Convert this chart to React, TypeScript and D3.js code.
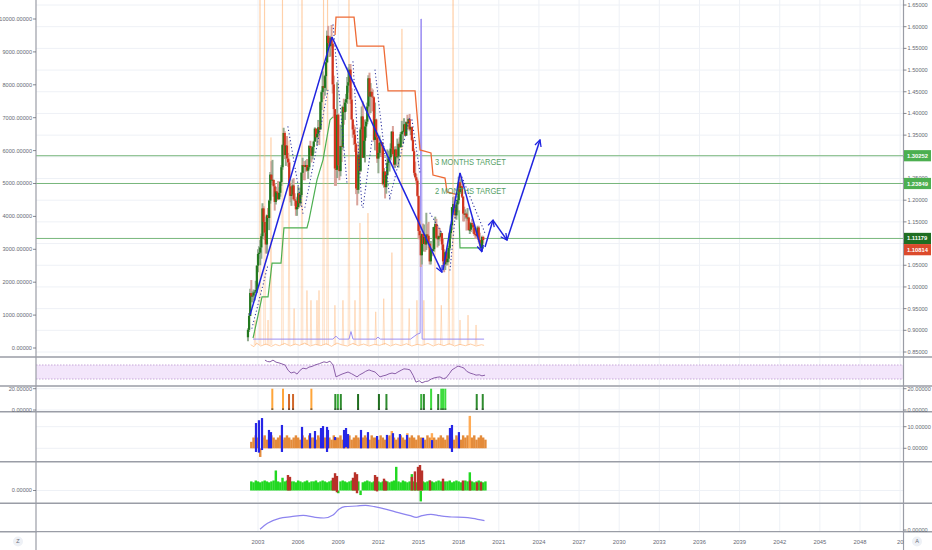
import React, { useEffect, useRef } from "react";
import * as d3 from "d3";

// monthly EUR/USD style candles, Apr 2002 .. Nov 2019
const firstMonth = 2002.25;
const firstOpen = 0.884;
const closes = [
  0.901, 0.933, 0.986, 0.978, 0.98, 0.987, 0.989, 0.993, 1.049,
  1.076, 1.079, 1.091, 1.117, 1.181, 1.15, 1.125, 1.098, 1.165, 1.159, 1.199, 1.259,
  1.247, 1.247, 1.232, 1.196, 1.22, 1.217, 1.202, 1.217, 1.242, 1.276, 1.327, 1.355,
  1.304, 1.326, 1.296, 1.287, 1.232, 1.21, 1.213, 1.234, 1.202, 1.199, 1.179, 1.184,
  1.216, 1.193, 1.212, 1.263, 1.281, 1.279, 1.277, 1.281, 1.268, 1.276, 1.325, 1.32,
  1.302, 1.323, 1.335, 1.365, 1.345, 1.353, 1.368, 1.363, 1.426, 1.449, 1.463, 1.459,
  1.486, 1.518, 1.579, 1.562, 1.555, 1.575, 1.561, 1.467, 1.41, 1.273, 1.27, 1.397,
  1.28, 1.267, 1.325, 1.323, 1.415, 1.403, 1.425, 1.433, 1.464, 1.472, 1.501, 1.432,
  1.386, 1.363, 1.351, 1.329, 1.227, 1.224, 1.305, 1.268, 1.363, 1.393, 1.298, 1.337,
  1.37, 1.381, 1.416, 1.481, 1.439, 1.45, 1.439, 1.437, 1.339, 1.386, 1.345, 1.296,
  1.309, 1.332, 1.334, 1.324, 1.237, 1.266, 1.23, 1.258, 1.286, 1.296, 1.299, 1.319,
  1.358, 1.306, 1.282, 1.317, 1.3, 1.301, 1.33, 1.322, 1.352, 1.358, 1.359, 1.375,
  1.349, 1.38, 1.377, 1.387, 1.363, 1.369, 1.339, 1.313, 1.263, 1.253, 1.245, 1.21,
  1.129, 1.119, 1.073, 1.122, 1.099, 1.115, 1.098, 1.121, 1.118, 1.1, 1.059, 1.086,
  1.083, 1.087, 1.138, 1.145, 1.113, 1.11, 1.117, 1.116, 1.124, 1.098, 1.059, 1.052,
  1.08, 1.057, 1.065, 1.09, 1.124, 1.142, 1.184, 1.191, 1.181, 1.165, 1.19, 1.2,
  1.241, 1.219, 1.232, 1.208, 1.169, 1.168, 1.169, 1.16, 1.16, 1.131, 1.132, 1.147,
  1.144, 1.137, 1.122, 1.121, 1.117, 1.137, 1.108, 1.099, 1.09, 1.115, 1.1081,
];
const highs = [
  0.905, 0.94, 0.996, 1.016, 0.99, 0.994, 0.993, 1.014, 1.05,
  1.087, 1.094, 1.108, 1.123, 1.193, 1.186, 1.162, 1.13, 1.167, 1.182, 1.201, 1.265,
  1.29, 1.293, 1.242, 1.239, 1.231, 1.226, 1.244, 1.23, 1.244, 1.281, 1.329, 1.367,
  1.359, 1.327, 1.348, 1.309, 1.294, 1.239, 1.23, 1.248, 1.251, 1.216, 1.208, 1.204,
  1.232, 1.216, 1.229, 1.265, 1.298, 1.29, 1.29, 1.292, 1.295, 1.28, 1.327, 1.337,
  1.325, 1.324, 1.337, 1.368, 1.357, 1.354, 1.385, 1.381, 1.428, 1.453, 1.497, 1.476,
  1.489, 1.519, 1.591, 1.602, 1.578, 1.579, 1.604, 1.563, 1.487, 1.41, 1.33, 1.472,
  1.4, 1.303, 1.374, 1.34, 1.418, 1.434, 1.431, 1.445, 1.484, 1.506, 1.514, 1.514,
  1.458, 1.387, 1.374, 1.369, 1.332, 1.248, 1.313, 1.333, 1.368, 1.416, 1.428, 1.35,
  1.386, 1.386, 1.425, 1.488, 1.494, 1.47, 1.458, 1.455, 1.439, 1.425, 1.388, 1.355,
  1.323, 1.349, 1.338, 1.333, 1.33, 1.274, 1.267, 1.263, 1.317, 1.314, 1.302, 1.331,
  1.359, 1.371, 1.309, 1.324, 1.324, 1.342, 1.335, 1.345, 1.357, 1.383, 1.362, 1.389,
  1.374, 1.382, 1.397, 1.39, 1.399, 1.369, 1.369, 1.345, 1.319, 1.289, 1.26, 1.25,
  1.21, 1.153, 1.124, 1.123, 1.146, 1.144, 1.113, 1.171, 1.146, 1.15, 1.101, 1.106,
  1.099, 1.138, 1.139, 1.162, 1.157, 1.142, 1.119, 1.136, 1.128, 1.121, 1.112, 1.087,
  1.082, 1.083, 1.09, 1.095, 1.127, 1.145, 1.184, 1.207, 1.209, 1.188, 1.196, 1.204,
  1.254, 1.256, 1.248, 1.241, 1.21, 1.185, 1.179, 1.173, 1.182, 1.162, 1.15, 1.149,
  1.157, 1.149, 1.145, 1.133, 1.127, 1.141, 1.141, 1.125, 1.111, 1.118, 1.118,
];
const lows = [
  0.875, 0.896, 0.933, 0.965, 0.964, 0.97, 0.969, 0.986, 0.986,
  1.034, 1.065, 1.05, 1.065, 1.112, 1.139, 1.108, 1.077, 1.077, 1.15, 1.131, 1.192,
  1.235, 1.236, 1.208, 1.176, 1.19, 1.199, 1.202, 1.205, 1.208, 1.233, 1.27, 1.324,
  1.295, 1.279, 1.288, 1.277, 1.23, 1.195, 1.187, 1.211, 1.199, 1.187, 1.164, 1.164,
  1.18, 1.183, 1.187, 1.207, 1.262, 1.246, 1.246, 1.266, 1.266, 1.249, 1.271, 1.309,
  1.287, 1.294, 1.308, 1.336, 1.341, 1.327, 1.342, 1.327, 1.364, 1.408, 1.444, 1.433,
  1.441, 1.452, 1.516, 1.552, 1.53, 1.531, 1.55, 1.446, 1.389, 1.233, 1.233, 1.251,
  1.277, 1.246, 1.255, 1.288, 1.316, 1.374, 1.385, 1.404, 1.422, 1.448, 1.47, 1.422,
  1.386, 1.344, 1.327, 1.311, 1.214, 1.188, 1.215, 1.259, 1.265, 1.368, 1.297, 1.307,
  1.287, 1.344, 1.375, 1.412, 1.397, 1.401, 1.405, 1.405, 1.335, 1.315, 1.315, 1.286,
  1.262, 1.3, 1.3, 1.3, 1.234, 1.229, 1.204, 1.215, 1.256, 1.28, 1.266, 1.292,
  1.312, 1.303, 1.275, 1.274, 1.279, 1.296, 1.275, 1.323, 1.324, 1.35, 1.33, 1.352,
  1.348, 1.348, 1.364, 1.368, 1.359, 1.35, 1.336, 1.313, 1.257, 1.25, 1.236, 1.208,
  1.11, 1.11, 1.046, 1.052, 1.082, 1.082, 1.081, 1.085, 1.108, 1.089, 1.052, 1.052,
  1.071, 1.083, 1.081, 1.121, 1.11, 1.091, 1.095, 1.105, 1.112, 1.085, 1.05, 1.034,
  1.039, 1.049, 1.05, 1.057, 1.084, 1.112, 1.131, 1.166, 1.172, 1.157, 1.155, 1.172,
  1.192, 1.221, 1.215, 1.205, 1.151, 1.151, 1.157, 1.13, 1.153, 1.13, 1.122, 1.127,
  1.129, 1.123, 1.118, 1.111, 1.111, 1.118, 1.103, 1.093, 1.088, 1.088, 1.1,
];

// axes
const xTicks = d3.range(2003, 2052, 3);
const priceTicks = d3.range(0.85, 1.6501, 0.05);
const leftTicks = d3.range(0, 10001, 1000);

// horizontal target levels and price labels
const levels = [1.30252, 1.23849, 1.11179];
const priceTags = [
  { label: "1.30252", value: 1.30252, color: "#4caf50" },
  { label: "1.23849", value: 1.23849, color: "#4caf50" },
  { label: "1.11179", value: 1.11179, color: "#1f6e22" },
  { label: "1.10814", value: 1.0859, color: "#dc4a2c" },
];
const targetTexts = [
  { text: "3 MONTHS TARGET", year: 2016.23, price: 1.281 },
  { text: "2 MONTHS TARGET", year: 2016.23, price: 1.214 },
];

// trailing stops
const upperStop: [number, number][] = [
  [2008.76, 1.581], [2008.83, 1.622], [2010.18, 1.622], [2010.4, 1.555], [2012.4, 1.555],
  [2012.72, 1.452], [2014.74, 1.452], [2015.11, 1.316], [2015.93, 1.309], [2016.08, 1.258],
  [2016.98, 1.251], [2017.13, 1.219], [2017.95, 1.212],
];
const lowerStop: [number, number][] = [
  [2002.63, 0.882], [2002.93, 0.924], [2003.3, 0.977], [2003.75, 0.977], [2004.05, 1.055],
  [2004.72, 1.055], [2004.94, 1.136], [2006.66, 1.136], [2006.81, 1.154], [2007.41, 1.247],
  [2007.86, 1.293], [2008.38, 1.385], [2008.61, 1.392],
];
const lowerStop2: [number, number][] = [[2018.02, 1.177], [2018.1, 1.09], [2019.89, 1.09]];

// parabolic dots
const sarRuns: [number, number, number, number][] = [
  [2002.55, 0.905, 2003.75, 1.051], [2005.24, 1.369, 2006.36, 1.17],
  [2006.51, 1.184, 2008.23, 1.454], [2008.61, 1.604, 2009.65, 1.24],
  [2010.1, 1.519, 2010.77, 1.184], [2010.85, 1.184, 2011.52, 1.339],
  [2011.75, 1.5, 2012.87, 1.2], [2012.87, 1.207, 2014.36, 1.392],
  [2014.51, 1.385, 2015.11, 1.263], [2015.86, 1.17, 2016.75, 1.124],
  [2017.35, 1.039, 2017.95, 1.23], [2018.25, 1.253, 2019.97, 1.124],
];

// hand drawn projection
const drawLegs: { from: [number, number]; to: [number, number]; arrow: boolean }[] = [
  { from: [2002.4, 0.935], to: [2008.53, 1.576], arrow: false },
  { from: [2008.53, 1.576], to: [2016.75, 1.034], arrow: true },
  { from: [2016.83, 1.039], to: [2018.1, 1.263], arrow: false },
  { from: [2018.1, 1.263], to: [2019.74, 1.081], arrow: true },
  { from: [2019.97, 1.092], to: [2020.56, 1.154], arrow: true },
  { from: [2020.56, 1.154], to: [2021.61, 1.108], arrow: true },
  { from: [2021.61, 1.108], to: [2024.08, 1.339], arrow: true },
];

// left-scale overlays on the price pane
const orangeBase: [number, number][] = [
  [2002.45, 100], [2002.7, 40], [2002.9, 150], [2003.2, 60], [2003.6, 120], [2004.0, 50],
  [2004.3, 110], [2004.6, 70], [2005.0, 140], [2005.4, 60], [2005.8, 120], [2006.1, 80],
  [2006.5, 150], [2006.9, 60], [2007.3, 110], [2007.7, 70], [2008.1, 130], [2008.5, 50],
  [2008.9, 150], [2009.3, 90], [2009.7, 60], [2010.1, 140], [2010.5, 70], [2010.9, 120],
  [2011.3, 60], [2011.7, 110], [2012.1, 80], [2012.5, 140], [2012.9, 60], [2013.3, 120],
  [2013.7, 70], [2014.1, 130], [2014.5, 60], [2014.9, 110], [2015.3, 80], [2015.7, 140],
  [2016.1, 60], [2016.5, 120], [2016.9, 70], [2017.3, 130], [2017.7, 60], [2018.1, 110],
  [2018.5, 70], [2018.9, 120], [2019.3, 60], [2019.7, 100], [2019.9, 80],
];
const orangeSpikes: [number, number][] = [
  [2002.78, 850], [2003.15, 12000], [2003.49, 12000], [2003.75, 850], [2003.97, 6400],
  [2004.83, 12000], [2005.32, 6300], [2005.7, 1200], [2006.29, 12000], [2006.66, 1750],
  [2006.96, 1450], [2007.41, 1450], [2007.56, 1750], [2007.9, 12000], [2008.2, 12000],
  [2008.75, 1300], [2009.35, 1450], [2009.8, 12000], [2010.25, 1450], [2010.62, 3800],
  [2011.22, 4100], [2011.8, 1100], [2012.4, 1500], [2013.01, 2900], [2013.76, 9700],
  [2014.3, 1200], [2014.88, 1450], [2015.4, 1450], [2016.23, 3500], [2016.7, 1300],
  [2017.27, 2900], [2017.58, 12000], [2018.1, 850], [2018.7, 1000], [2019.3, 700],
];
const purpleLine: [number, number][] = [
  [2002.63, 270], [2008.6, 270], [2008.83, 360], [2009.05, 270], [2009.8, 270],
  [2009.95, 500], [2010.1, 270], [2011.8, 270], [2011.97, 330], [2012.15, 270],
  [2014.4, 270], [2014.9, 420], [2015.12, 450], [2015.18, 10000], [2015.21, 10000],
  [2015.27, 270], [2019.9, 270],
];

// RSI pane
const rsi: [number, number][] = [
  [2003.52, 84], [2003.7, 80], [2003.9, 79], [2004.12, 84], [2004.35, 78], [2004.57, 76],
  [2005.02, 70], [2005.25, 55], [2005.47, 47], [2005.7, 50], [2005.92, 44], [2006.15, 55],
  [2006.36, 61], [2006.6, 59], [2006.81, 64], [2007.05, 66], [2007.26, 70], [2007.6, 74],
  [2007.93, 79], [2008.15, 77], [2008.38, 81], [2008.61, 70], [2008.83, 36], [2009.05, 40],
  [2009.28, 44], [2009.5, 47], [2009.73, 50], [2010.0, 45], [2010.18, 41], [2010.4, 36],
  [2010.6, 42], [2010.85, 47], [2011.05, 52], [2011.3, 56], [2011.5, 53], [2011.75, 50],
  [2012.12, 36], [2012.35, 39], [2012.57, 41], [2012.8, 45], [2013.02, 47], [2013.25, 45],
  [2013.46, 50], [2013.7, 55], [2013.91, 59], [2014.15, 58], [2014.36, 56], [2014.6, 40],
  [2014.81, 21], [2015.05, 25], [2015.26, 19], [2015.5, 23], [2015.71, 24], [2015.95, 30],
  [2016.16, 33], [2016.4, 35], [2016.6, 36], [2016.85, 31], [2017.05, 33], [2017.3, 45],
  [2017.5, 56], [2017.75, 62], [2017.95, 67], [2018.2, 64], [2018.4, 61], [2018.6, 52],
  [2018.85, 47], [2019.1, 44], [2019.3, 41], [2019.55, 42], [2019.74, 39], [2019.97, 41],
];

// signal bars pane
const signalBars: { year: number; value: number; color: string }[] = [
  { year: 2004.07, value: 20, color: "#ffa53a" },
  { year: 2004.87, value: 20, color: "#ffa53a" },
  { year: 2005.32, value: 15, color: "#d0672a" },
  { year: 2005.62, value: 15, color: "#d0672a" },
  { year: 2006.99, value: 20, color: "#ffa53a" },
  { year: 2008.78, value: 15, color: "#2e8b2e" },
  { year: 2008.97, value: 15, color: "#3cb43c" },
  { year: 2009.19, value: 15, color: "#2e8b2e" },
  { year: 2010.48, value: 15, color: "#1f6e1f" },
  { year: 2012.04, value: 15, color: "#1f6e1f" },
  { year: 2012.6, value: 15, color: "#2e8b2e" },
  { year: 2015.2, value: 15, color: "#3cb43c" },
  { year: 2015.4, value: 15, color: "#2e8b2e" },
  { year: 2015.94, value: 20, color: "#3ddc3d" },
  { year: 2016.47, value: 15, color: "#2e8b2e" },
  { year: 2016.7, value: 20, color: "#3ddc3d" },
  { year: 2016.83, value: 20, color: "#3ddc3d" },
  { year: 2017.0, value: 20, color: "#3ddc3d" },
  { year: 2019.35, value: 15, color: "#2e8b2e" },
  { year: 2019.8, value: 15, color: "#2e8b2e" },
];

// oscillator pane (two-month bars)
const barStart = 2002.5;
const oscOrange = [
  3, 5, 6, 5, -4, 5, 6, 4, 5, 6, 5, 4,
  5, 6, 4, 5, 6, 5, 4, 5, 6, 5, 4, 6,
  5, 4, 6, 5, 5, 4, 6, 5, 4, 5, 6, 5,
  4, 6, 5, 5, 6, 4, 5, 5, 6, 4, 5, 6,
  5, 4, 5, 6, 5, 4, 6, 5, 5, 4, 6, 5,
  4, 5, 6, 8, 5, 4, 5, 6, 5, 4, 7, 5,
  6, 5, 4, 6, 5, 5, 4, 6, 5, 7, 5, 4,
  5, 6, 5, 4, 6, 5, 5, 4, 6, 5, 4, 6,
  5, 6, 15, 5, 6, 4, 5, 6, 5, 4,
];
const oscBlue: [number, number, number][] = [
  [2002.85, 11.7, -1.7], [2003.07, 13, -2], [2003.3, 14, -0.8], [2003.82, 8.5, 0],
  [2003.97, 7.5, 0], [2004.79, 10.8, -1.7], [2006.29, 9.9, 0], [2006.89, 7, 0],
  [2007.26, 8, 0], [2007.71, 9.4, 0], [2007.86, 10.3, 0], [2008.16, 9.9, -1.7],
  [2008.23, 8.5, 0], [2008.76, 5.2, 3.8], [2009.43, 8.5, 0], [2009.58, 9.4, 0.6],
  [2009.73, 6.6, 0], [2010.7, 8.5, 0], [2011.22, 7.5, 0], [2011.9, 5.7, 0],
  [2012.64, 6.2, 0], [2013.09, 7, 0], [2013.61, 6.6, 0], [2014.14, 6.2, 0],
  [2015.33, 4.8, 0], [2016.01, 3.8, 0], [2017.35, 9.4, 0], [2017.5, 10.8, -1.7],
  [2018.02, 7.5, 0],
];

// momentum pane (two-month bars)
const momGreen = [
  10, 9, 11, 10, 9, 10, 11, 10, 9, 10, 11, 22,
  10, 9, 14, 10, 11, 9, 10, 10, 9, 11, 10, 9,
  10, 11, 9, 10, 10, 11, 9, 10, 11, 10, 9, 10,
  11, 10, 9, -3, 10, 11, 10, 9, 10, 11, 9, 10,
  10, -5, 9, 10, 11, 10, 9, 10, 11, 10, 9, 10,
  11, 10, 9, 10, 11, 26, 10, 9, 11, 10, 9, 10,
  18, 10, 9, 11, -12, 10, 9, 10, 11, 10, 9, 10,
  11, 10, 9, 10, 10, 11, 9, 10, 11, 10, 9, 10,
  11, 10, 20, 10, 9, 10, 11, 10, 9, 10,
];
const momRed: [number, number, number][] = [
  [2005.24, 17, 0], [2005.39, 15, 0], [2008.6, 14, 0], [2008.76, 19, 0], [2008.9, 16, -2],
  [2010.1, 14, 0], [2010.25, 20, 0], [2010.4, 18, -3], [2011.75, 17, 0], [2011.9, 15, -1],
  [2012.42, 13, 0], [2012.57, 10, 0], [2014.5, 15, 0], [2014.73, 21, 0], [2014.96, 26, 0],
  [2015.11, 28, 0], [2015.26, 22, 0], [2015.86, 11, 0], [2016.83, 13, 0], [2018.32, 11, 0],
  [2018.85, 11, 0], [2019.37, 9, 0], [2019.67, 9, 0],
];

// bottom pane line
const slowLine: [number, number][] = [
  [2003.15, 0.7], [2003.71, 6.7], [2004.6, 11.7], [2005.49, 13.3], [2006.38, 14.7],
  [2007.27, 12.7], [2007.93, 12], [2008.61, 15], [2009.05, 20.7], [2009.49, 23.3],
  [2010.38, 24], [2011.04, 24.7], [2011.71, 23.3], [2012.6, 20.7], [2013.49, 17.3],
  [2014.38, 14.3], [2014.83, 12.7], [2015.26, 14.3], [2015.93, 15.7], [2016.6, 14.3],
  [2017.49, 13], [2018.38, 12.7], [2019.05, 11.7], [2019.93, 9.3],
];

const axisFont = "'Liberation Sans', Arial, sans-serif";
const gridColor = "#eef1f6";
const lineColor = "#9a9da6";
const textColor = "#676a75";

const App: React.FC = () => {
  const ref = useRef<SVGSVGElement>(null);

  useEffect(() => {
    document.body.style.margin = "0";
    const svg = d3.select(ref.current);
    svg.selectAll("*").remove();

    const W = 932;
    const H = 550;
    const L = 36;
    const R = 903.5;

    const x = d3.scaleLinear().domain([2003, 2048]).range([258, 860]);
    const yP = d3.scaleLinear().domain([0.85, 1.65]).range([352, 5]);
    const yL = d3.scaleLinear().domain([0, 10000]).range([348, 19]);
    const yRsi = d3.scaleLinear().domain([30, 70]).range([379, 365]);
    const ySig = d3.scaleLinear().domain([0, 20]).range([410, 388.7]);
    const yOsc = d3.scaleLinear().domain([0, 10]).range([448.3, 426.7]);
    const yMom = d3.scaleLinear().domain([0, 10]).range([490.5, 481.4]);
    const ySlow = d3.scaleLinear().domain([0, 10]).range([530, 520]);

    const panes = [
      { id: "main", top: 0, bottom: 356.2 },
      { id: "rsi", top: 357.8, bottom: 385.2 },
      { id: "sig", top: 386.8, bottom: 410.9 },
      { id: "osc", top: 412.5, bottom: 460.9 },
      { id: "mom", top: 462.5, bottom: 502.5 },
      { id: "slow", top: 504.1, bottom: 530.9 },
    ];
    const separators = [357, 386, 411.7, 461.7, 503.3, 531.7];

    svg.append("rect").attr("width", W).attr("height", H).attr("fill", "#ffffff");

    const defs = svg.append("defs");
    panes.forEach((p) => {
      defs
        .append("clipPath")
        .attr("id", `clip-${p.id}`)
        .append("rect")
        .attr("x", L)
        .attr("y", p.top)
        .attr("width", R - L)
        .attr("height", p.bottom - p.top);
    });
    defs
      .append("marker")
      .attr("id", "arrow")
      .attr("viewBox", "0 0 10 10")
      .attr("refX", 9)
      .attr("refY", 5)
      .attr("markerWidth", 8)
      .attr("markerHeight", 8)
      .attr("markerUnits", "userSpaceOnUse")
      .attr("orient", "auto")
      .append("path")
      .attr("d", "M1,1 L9,5 L1,9")
      .attr("fill", "none")
      .attr("stroke", "#1f23e0")
      .attr("stroke-width", 1.6);

    const pane = (id: string) => svg.append("g").attr("clip-path", `url(#clip-${id})`);

    // vertical grid in every pane
    const vgrid = svg.append("g");
    panes.forEach((p) => {
      vgrid
        .selectAll(null)
        .data(xTicks)
        .enter()
        .append("line")
        .attr("x1", (d) => x(d))
        .attr("x2", (d) => x(d))
        .attr("y1", p.top)
        .attr("y2", p.bottom)
        .attr("stroke", gridColor)
        .attr("stroke-width", 1);
    });

    // ---------- main pane ----------
    const main = pane("main");
    main
      .selectAll(null)
      .data(priceTicks)
      .enter()
      .append("line")
      .attr("x1", L)
      .attr("x2", R)
      .attr("y1", (d) => yP(d))
      .attr("y2", (d) => yP(d))
      .attr("stroke", gridColor);

    main
      .selectAll(null)
      .data(levels)
      .enter()
      .append("line")
      .attr("x1", L)
      .attr("x2", R)
      .attr("y1", (d) => yP(d))
      .attr("y2", (d) => yP(d))
      .attr("stroke", "#78b77c")
      .attr("stroke-width", 1);

    // orange left-scale series
    const leftLine = d3
      .line<[number, number]>()
      .x((d) => x(d[0]))
      .y((d) => yL(d[1]));
    main
      .append("path")
      .attr("d", leftLine(orangeBase))
      .attr("fill", "none")
      .attr("stroke", "#ffc28e")
      .attr("stroke-width", 0.8);
    main
      .selectAll(null)
      .data(orangeSpikes)
      .enter()
      .append("path")
      .attr("d", (d) =>
        leftLine([
          [d[0] - 0.06, 90],
          [d[0], d[1]],
          [d[0] + 0.06, 90],
        ])
      )
      .attr("fill", "none")
      .attr("stroke", "#ffb270")
      .attr("stroke-width", 0.7)
      .attr("opacity", 0.6);

    main
      .append("path")
      .attr("d", leftLine(purpleLine))
      .attr("fill", "none")
      .attr("stroke", "#9d8ff2")
      .attr("stroke-width", 1);

    const priceLine = d3
      .line<[number, number]>()
      .x((d) => x(d[0]))
      .y((d) => yP(d[1]));

    [lowerStop, lowerStop2].forEach((s) =>
      main
        .append("path")
        .attr("d", priceLine(s))
        .attr("fill", "none")
        .attr("stroke", "#4caf50")
        .attr("stroke-width", 1.2)
    );
    main
      .append("path")
      .attr("d", priceLine(upperStop))
      .attr("fill", "none")
      .attr("stroke", "#ee6a35")
      .attr("stroke-width", 1.3);

    // candles
    const candles = closes.map((c, i) => ({
      t: firstMonth + i / 12,
      o: i === 0 ? firstOpen : closes[i - 1],
      c,
      h: highs[i],
      l: lows[i],
    }));
    main
      .selectAll(null)
      .data(candles)
      .enter()
      .append("line")
      .attr("x1", (d) => x(d.t))
      .attr("x2", (d) => x(d.t))
      .attr("y1", (d) => yP(Math.max(d.h, d.o, d.c)))
      .attr("y2", (d) => yP(Math.min(d.l, d.o, d.c)))
      .attr("stroke", (d) => (d.c >= d.o ? "#93ab90" : "#d9a39b"))
      .attr("stroke-width", 2);
    main
      .selectAll(null)
      .data(candles)
      .enter()
      .append("rect")
      .attr("x", (d) => x(d.t) - 1.1)
      .attr("width", 2.2)
      .attr("y", (d) => yP(Math.max(d.o, d.c)))
      .attr("height", (d) => Math.max(1, Math.abs(yP(d.o) - yP(d.c))))
      .attr("fill", (d) => (d.c >= d.o ? "#22791e" : "#d2341e"));

    // parabolic dots
    main
      .selectAll(null)
      .data(sarRuns)
      .enter()
      .append("line")
      .attr("x1", (d) => x(d[0]))
      .attr("y1", (d) => yP(d[1]))
      .attr("x2", (d) => x(d[2]))
      .attr("y2", (d) => yP(d[3]))
      .attr("stroke", "#2a2f9c")
      .attr("stroke-width", 1.2)
      .attr("stroke-linecap", "round")
      .attr("stroke-dasharray", "0.1 3.4");

    // drawn projection
    main
      .selectAll(null)
      .data(drawLegs)
      .enter()
      .append("line")
      .attr("x1", (d) => x(d.from[0]))
      .attr("y1", (d) => yP(d.from[1]))
      .attr("x2", (d) => x(d.to[0]))
      .attr("y2", (d) => yP(d.to[1]))
      .attr("stroke", "#1f23e0")
      .attr("stroke-width", 1.5)
      .attr("marker-end", (d) => (d.arrow ? "url(#arrow)" : null));

    main
      .selectAll(null)
      .data(targetTexts)
      .enter()
      .append("text")
      .attr("x", (d) => x(d.year))
      .attr("y", (d) => yP(d.price))
      .attr("font-family", "'Liberation Sans Narrow', 'Liberation Sans', Arial, sans-serif")
      .attr("font-size", 9.5)
      .attr("textLength", 71)
      .attr("lengthAdjust", "spacingAndGlyphs")
      .attr("fill", "#559f66")
      .text((d) => d.text);

    // ---------- RSI pane ----------
    const rsiG = pane("rsi");
    rsiG
      .append("rect")
      .attr("x", L)
      .attr("width", R - L)
      .attr("y", yRsi(70))
      .attr("height", yRsi(30) - yRsi(70))
      .attr("fill", "#f3e6fb");
    [70, 30].forEach((v) =>
      rsiG
        .append("line")
        .attr("x1", L)
        .attr("x2", R)
        .attr("y1", yRsi(v))
        .attr("y2", yRsi(v))
        .attr("stroke", "#c6a7d8")
        .attr("stroke-dasharray", "1.5 1.5")
    );
    rsiG
      .append("path")
      .attr(
        "d",
        d3
          .line<[number, number]>()
          .x((d) => x(d[0]))
          .y((d) => yRsi(d[1]))(rsi)
      )
      .attr("fill", "none")
      .attr("stroke", "#8a5ea8")
      .attr("stroke-width", 1);

    // ---------- signal pane ----------
    const sigG = pane("sig");
    [0, 20].forEach((v) =>
      sigG
        .append("line")
        .attr("x1", L)
        .attr("x2", R)
        .attr("y1", ySig(v))
        .attr("y2", ySig(v))
        .attr("stroke", gridColor)
    );
    sigG
      .selectAll(null)
      .data(signalBars)
      .enter()
      .append("rect")
      .attr("x", (d) => x(d.year) - 1)
      .attr("width", 2)
      .attr("y", (d) => ySig(d.value))
      .attr("height", (d) => ySig(0) - ySig(d.value))
      .attr("fill", (d) => d.color);
    sigG
      .selectAll(null)
      .data(signalBars)
      .enter()
      .append("rect")
      .attr("x", (d) => x(d.year) - 1)
      .attr("width", 2)
      .attr("y", ySig(1.6))
      .attr("height", ySig(0) - ySig(1.6))
      .attr("fill", "#3b3b3b")
      .attr("opacity", 0.6);

    // ---------- oscillator pane ----------
    const barW = x(barStart + 1 / 6) - x(barStart) + 0.2;
    const oscG = pane("osc");
    [0, 10].forEach((v) =>
      oscG
        .append("line")
        .attr("x1", L)
        .attr("x2", R)
        .attr("y1", yOsc(v))
        .attr("y2", yOsc(v))
        .attr("stroke", gridColor)
    );
    oscG
      .selectAll(null)
      .data(oscOrange)
      .enter()
      .append("rect")
      .attr("x", (d, i) => x(barStart + i / 6) - barW / 2)
      .attr("width", barW)
      .attr("y", (d) => yOsc(Math.max(0, d)))
      .attr("height", (d) => Math.abs(yOsc(d) - yOsc(0)))
      .attr("fill", (d) => (d > 6 ? "#ffab55" : "#e48b3a"));
    oscG
      .selectAll(null)
      .data(oscBlue)
      .enter()
      .append("rect")
      .attr("x", (d) => x(d[0]) - 1.1)
      .attr("width", 2.2)
      .attr("y", (d) => yOsc(d[1]))
      .attr("height", (d) => yOsc(d[2]) - yOsc(d[1]))
      .attr("fill", "#2626e6");

    // ---------- momentum pane ----------
    const momG = pane("mom");
    momG
      .append("line")
      .attr("x1", L)
      .attr("x2", R)
      .attr("y1", yMom(0))
      .attr("y2", yMom(0))
      .attr("stroke", gridColor);
    momG
      .selectAll(null)
      .data(momGreen)
      .enter()
      .append("rect")
      .attr("x", (d, i) => x(barStart + i / 6) - barW / 2)
      .attr("width", barW)
      .attr("y", (d) => yMom(Math.max(0, d)))
      .attr("height", (d) => Math.abs(yMom(d) - yMom(0)))
      .attr("fill", "#21d821");
    momG
      .selectAll(null)
      .data(momRed)
      .enter()
      .append("rect")
      .attr("x", (d) => x(d[0]) - 1.2)
      .attr("width", 2.4)
      .attr("y", (d) => yMom(d[1]))
      .attr("height", (d) => yMom(d[2]) - yMom(d[1]))
      .attr("fill", "#b8322a");

    // ---------- slow line pane ----------
    const slowG = pane("slow");
    slowG
      .append("path")
      .attr(
        "d",
        d3
          .line<[number, number]>()
          .x((d) => x(d[0]))
          .y((d) => ySlow(d[1]))
          .curve(d3.curveMonotoneX)(slowLine)
      )
      .attr("fill", "none")
      .attr("stroke", "#8d84ef")
      .attr("stroke-width", 1.2);

    // ---------- frame ----------
    separators.forEach((y) =>
      svg
        .append("line")
        .attr("x1", 0)
        .attr("x2", W)
        .attr("y1", y)
        .attr("y2", y)
        .attr("stroke", lineColor)
        .attr("stroke-width", 1.5)
    );
    [L, R].forEach((xx) =>
      svg
        .append("line")
        .attr("x1", xx)
        .attr("x2", xx)
        .attr("y1", 0)
        .attr("y2", H)
        .attr("stroke", lineColor)
        .attr("stroke-width", 1.2)
    );

    const label = (
      g: d3.Selection<SVGGElement, unknown, null, undefined>,
      xx: number,
      y: number,
      text: string,
      anchor: string
    ) => {
      g.append("text")
        .attr("x", xx)
        .attr("y", y)
        .attr("dy", "0.35em")
        .attr("text-anchor", anchor)
        .attr("font-family", axisFont)
        .attr("font-size", 5.6)
        .attr("fill", textColor)
        .text(text);
      const tx = anchor === "end" ? L - 3 : R;
      g.append("line")
        .attr("x1", tx)
        .attr("x2", tx + 3)
        .attr("y1", y)
        .attr("y2", y)
        .attr("stroke", textColor)
        .attr("stroke-width", 0.8);
    };

    const axes = svg.append("g");
    leftTicks.forEach((v) => label(axes, L - 4, yL(v), v.toFixed(5), "end"));
    priceTicks.forEach((v) => label(axes, R + 4, yP(v), v.toFixed(5), "start"));
    [20, 0].forEach((v) => {
      label(axes, L - 4, ySig(v), v.toFixed(5), "end");
      label(axes, R + 4, ySig(v), v.toFixed(5), "start");
    });
    [10, 0].forEach((v) => label(axes, R + 4, yOsc(v), v.toFixed(5), "start"));
    label(axes, L - 4, yMom(0), (0).toFixed(5), "end");
    label(axes, R + 4, ySlow(0), (0).toFixed(5), "start");

    // price tags on the right scale
    const tags = svg.append("g");
    priceTags.forEach((t) => {
      const cy = yP(t.value);
      tags
        .append("rect")
        .attr("x", R + 0.5)
        .attr("y", cy - 5.6)
        .attr("width", W - R - 1.5)
        .attr("height", 11.2)
        .attr("fill", t.color);
      tags
        .append("text")
        .attr("x", R + 3.5)
        .attr("y", cy)
        .attr("dy", "0.35em")
        .attr("font-family", axisFont)
        .attr("font-size", 5.8)
        .attr("font-weight", "bold")
        .attr("fill", "#ffffff")
        .text(t.label);
    });

    // time axis
    const timeG = svg.append("g");
    timeG
      .append("rect")
      .attr("x", L + 1)
      .attr("y", 532.5)
      .attr("width", R - L - 2)
      .attr("height", H - 532.5)
      .attr("fill", "#ffffff");
    xTicks
      .filter((d) => x(d) < R - 2)
      .forEach((d) =>
        timeG
          .append("text")
          .attr("x", x(d))
          .attr("y", 542)
          .attr("dy", "0.35em")
          .attr("text-anchor", "middle")
          .attr("font-family", axisFont)
          .attr("font-size", 5.8)
          .attr("fill", textColor)
          .text(x(d) + 8 > R ? String(d).slice(0, 2) : String(d))
      );

    [
      { cx: 18, label: "Z" },
      { cx: 917, label: "A" },
    ].forEach((b) => {
      timeG
        .append("circle")
        .attr("cx", b.cx)
        .attr("cy", 541.5)
        .attr("r", 5)
        .attr("fill", "#eef1f6");
      timeG
        .append("text")
        .attr("x", b.cx)
        .attr("y", 541.5)
        .attr("dy", "0.35em")
        .attr("text-anchor", "middle")
        .attr("font-family", axisFont)
        .attr("font-size", 5.5)
        .attr("fill", "#6a6d78")
        .text(b.label);
    });
  }, []);

  return <svg ref={ref} width={932} height={550} style={{ display: "block" }} />;
};

export default App;
